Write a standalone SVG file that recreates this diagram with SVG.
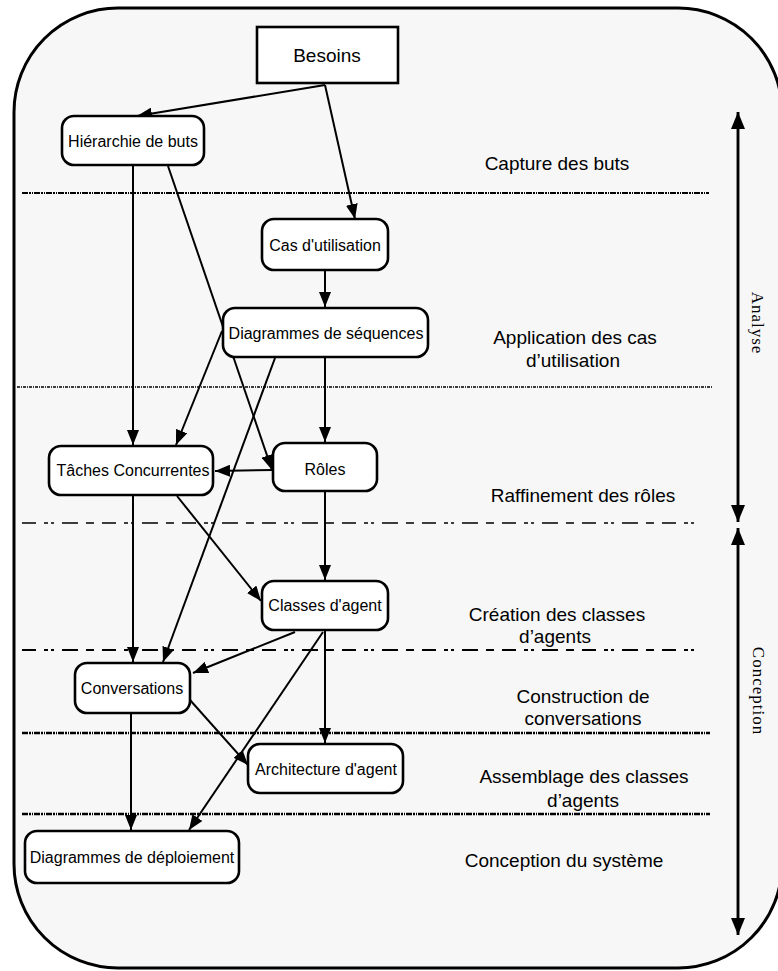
<svg xmlns="http://www.w3.org/2000/svg" width="778" height="971" viewBox="0 0 778 971">
<defs>
<marker id="ah" markerUnits="userSpaceOnUse" markerWidth="16" markerHeight="12" refX="15" refY="6" orient="auto">
<path d="M0,0 L15,6 L0,12 Z" fill="#000"/>
</marker>
<marker id="ax" markerUnits="userSpaceOnUse" markerWidth="18" markerHeight="14" refX="17" refY="7" orient="auto">
<path d="M0,0 L17,7 L0,14 Z" fill="#000"/>
</marker>
<style>
.node rect{fill:#fff;stroke:#000;stroke-width:2.6}
.nt{font-family:"Liberation Sans",Arial,sans-serif;font-size:16px;text-anchor:middle;fill:#000}
.lb{font-family:"Liberation Sans",Arial,sans-serif;font-size:19px;text-anchor:middle;fill:#000}
.ph{font-family:"Liberation Serif","Times New Roman",serif;font-size:17px;letter-spacing:1px;text-anchor:middle;fill:#000}
.c{stroke:#000;stroke-width:2;fill:none;marker-end:url(#ah)}
.sep{stroke:#000;fill:none}
</style>
</defs>
<rect x="14" y="8" width="768" height="960" rx="104" ry="104" fill="#f7f7f7" stroke="#000" stroke-width="3"/>

<g id="separators">
<line class="sep" x1="22" y1="193" x2="709" y2="193" stroke-width="2" stroke-dasharray="6 1 2 1 1 1"/>
<line class="sep" x1="17" y1="387" x2="713" y2="387" stroke-width="1.5" stroke-dasharray="3 1 1 1"/>
<line class="sep" x1="22" y1="523" x2="702" y2="523" stroke-width="1.5" stroke-dasharray="14 8 4 3 3 8 16 8 8 8"/>
<line class="sep" x1="22" y1="650" x2="702" y2="650" stroke-width="2" stroke-dasharray="14 8 4 3 3 8 16 8 8 8"/>
<line class="sep" x1="22" y1="733" x2="710" y2="733" stroke-width="2.5" stroke-dasharray="6 1 2 1 1 1"/>
<line class="sep" x1="22" y1="814" x2="710" y2="814" stroke-width="2.5" stroke-dasharray="6 1 2 1 1 1"/>
</g>

<g id="phase-axis">
<line x1="738" y1="522" x2="738" y2="112" stroke="#000" stroke-width="2.5" marker-end="url(#ax)"/>
<line x1="738" y1="112" x2="738" y2="522" stroke="#000" stroke-width="2.5" marker-end="url(#ax)"/>
<line x1="738" y1="935" x2="738" y2="528" stroke="#000" stroke-width="2.5" marker-end="url(#ax)"/>
<line x1="738" y1="528" x2="738" y2="935" stroke="#000" stroke-width="2.5" marker-end="url(#ax)"/>
<text class="ph" x="752" y="323" transform="rotate(90 752 323)">Analyse</text>
<text class="ph" x="753" y="691" transform="rotate(90 753 691)">Conception</text>
</g>

<g id="labels">
<text class="lb" x="557" y="170">Capture des buts</text>
<text class="lb" x="575" y="344">Application des cas</text>
<text class="lb" x="573" y="367">d’utilisation</text>
<text class="lb" x="583" y="502">Raffinement des rôles</text>
<text class="lb" x="557" y="621">Création des classes</text>
<text class="lb" x="555" y="643">d’agents</text>
<text class="lb" x="583" y="703">Construction de</text>
<text class="lb" x="583" y="725">conversations</text>
<text class="lb" x="584" y="783">Assemblage des classes</text>
<text class="lb" x="583" y="807">d’agents</text>
<text class="lb" x="564" y="867">Conception du système</text>
</g>

<g id="connectors">
<line class="c" x1="325" y1="85" x2="137" y2="116"/>
<line class="c" x1="325" y1="85" x2="355" y2="219"/>
<line class="c" x1="133" y1="165" x2="133" y2="445"/>
<line class="c" x1="168" y1="166" x2="272" y2="470" stroke-width="1.6"/>
<line class="c" x1="325" y1="270" x2="325" y2="307"/>
<line class="c" x1="222" y1="331" x2="176" y2="445"/>
<line class="c" x1="325" y1="357" x2="325" y2="442"/>
<line class="c" x1="275" y1="358" x2="163" y2="662"/>
<line class="c" x1="273" y1="470" x2="215" y2="471"/>
<line class="c" x1="177" y1="496" x2="261" y2="601"/>
<line class="c" x1="133" y1="495" x2="133" y2="662"/>
<line class="c" x1="325" y1="491" x2="325" y2="580"/>
<line class="c" x1="295" y1="632" x2="193" y2="673"/>
<line class="c" x1="325" y1="630" x2="325" y2="743"/>
<line class="c" x1="323" y1="632" x2="189" y2="830"/>
<line class="c" x1="190" y1="700" x2="248" y2="765"/>
<line class="c" x1="131" y1="713" x2="131" y2="830" stroke-width="1.6"/>
</g>

<g id="besoins" class="node">
<rect x="257" y="27" width="141" height="56" rx="0" ry="0"/>
<text class="lb" x="327" y="62">Besoins</text>
</g>
<g id="hierarchie" class="node">
<rect x="62" y="116" width="142" height="49" rx="12" ry="12"/>
<text class="nt" x="133" y="147">Hiérarchie de buts</text>
</g>
<g id="cas-utilisation" class="node">
<rect x="262" y="219" width="126" height="51" rx="12" ry="12"/>
<text class="nt" x="325" y="251">Cas d'utilisation</text>
</g>
<g id="diagrammes-sequences" class="node">
<rect x="223" y="308" width="205" height="49" rx="12" ry="12"/>
<text class="nt" x="326" y="339">Diagrammes de séquences</text>
</g>
<g id="taches" class="node">
<rect x="49" y="446" width="164" height="49" rx="12" ry="12"/>
<text class="nt" x="133" y="476">Tâches Concurrentes</text>
</g>
<g id="roles" class="node">
<rect x="273" y="443" width="104" height="48" rx="12" ry="12"/>
<text class="nt" x="325" y="475">Rôles</text>
</g>
<g id="classes-agent" class="node">
<rect x="262" y="581" width="126" height="49" rx="12" ry="12"/>
<text class="nt" x="325" y="611">Classes d'agent</text>
</g>
<g id="conversations" class="node">
<rect x="75" y="663" width="115" height="50" rx="12" ry="12"/>
<text class="nt" x="132" y="694">Conversations</text>
</g>
<g id="architecture" class="node">
<rect x="248" y="744" width="155" height="49" rx="12" ry="12"/>
<text class="nt" x="326" y="775">Architecture d'agent</text>
</g>
<g id="deploiement" class="node">
<rect x="25" y="831" width="214" height="52" rx="12" ry="12"/>
<text class="nt" x="132" y="863">Diagrammes de déploiement</text>
</g>
</svg>
